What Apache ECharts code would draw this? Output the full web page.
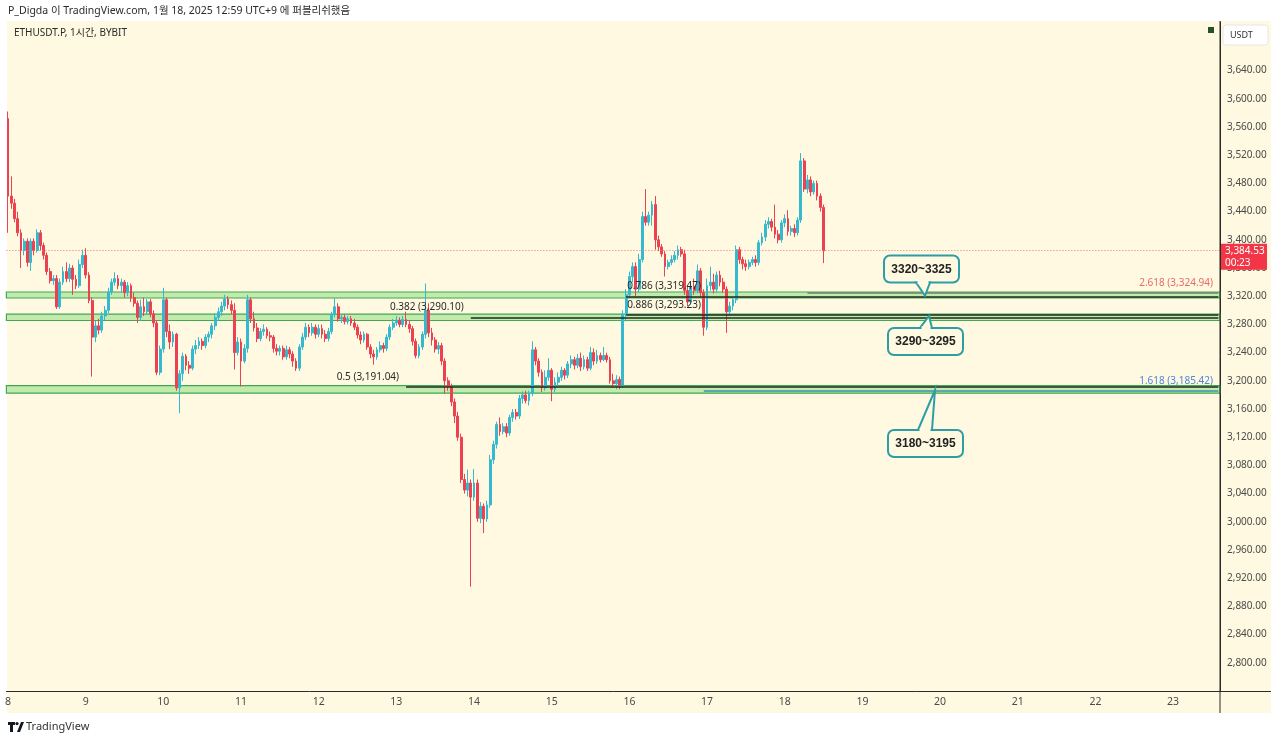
<!DOCTYPE html>
<html>
<head>
<meta charset="utf-8">
<script src="https://cdn.jsdelivr.net/npm/echarts@6/dist/echarts.min.js"></script>
<style>
  html, body { margin: 0; padding: 0; background: #fff; }
  #chart { width: 1280px; height: 741px; }
</style>
</head>
<body>
<div id="chart"></div>
<script>
// ETHUSDT.P 1h candles from 1/8 00:00, each row = [open, high, low, close]
const candles = [
  [3572,3582,3410,3462],[3462,3490,3444,3452],[3452,3458,3425,3430],[3430,3440,3405,3410],
  [3410,3415,3360,3385],[3385,3402,3378,3398],[3398,3402,3362,3368],[3368,3402,3356,3398],
  [3398,3402,3378,3385],[3385,3415,3382,3410],[3410,3414,3385,3392],[3392,3396,3372,3378],
  [3378,3382,3350,3355],[3355,3360,3338,3342],[3342,3350,3336,3345],[3345,3350,3302,3305],
  [3305,3345,3302,3340],[3340,3362,3336,3355],[3355,3368,3340,3345],[3345,3366,3340,3360],
  [3360,3364,3322,3344],[3344,3350,3330,3335],[3335,3372,3332,3365],[3365,3386,3360,3378],
  [3378,3388,3345,3350],[3350,3354,3310,3314],[3314,3318,3206,3262],[3262,3285,3255,3278],
  [3278,3288,3266,3272],[3272,3298,3268,3292],[3292,3306,3286,3300],[3300,3332,3296,3326],
  [3326,3345,3322,3340],[3340,3354,3335,3345],[3345,3350,3330,3335],[3335,3345,3325,3340],
  [3340,3343,3318,3325],[3325,3340,3320,3335],[3335,3338,3312,3318],[3318,3325,3305,3310],
  [3310,3314,3282,3290],[3290,3315,3285,3305],[3305,3318,3292,3298],[3298,3316,3294,3312],
  [3312,3316,3290,3295],[3295,3300,3276,3282],[3282,3286,3208,3212],[3212,3250,3208,3245],
  [3245,3332,3240,3315],[3315,3318,3262,3270],[3270,3280,3245,3255],[3255,3270,3248,3266],
  [3266,3268,3186,3190],[3190,3215,3154,3210],[3210,3240,3200,3235],[3235,3238,3215,3222],
  [3222,3228,3210,3218],[3218,3250,3215,3245],[3245,3258,3238,3250],[3250,3262,3245,3256],
  [3256,3260,3244,3250],[3250,3266,3246,3262],[3262,3270,3255,3266],[3266,3282,3260,3278],
  [3278,3296,3272,3290],[3290,3304,3285,3298],[3298,3312,3292,3306],[3306,3322,3300,3316],
  [3316,3320,3302,3308],[3308,3314,3295,3300],[3300,3310,3216,3240],[3240,3262,3236,3255],
  [3255,3260,3192,3228],[3228,3252,3225,3246],[3246,3322,3240,3315],[3315,3318,3282,3288],
  [3288,3298,3270,3275],[3275,3282,3255,3260],[3260,3275,3256,3270],[3270,3280,3264,3273],
  [3273,3276,3260,3264],[3264,3270,3256,3262],[3262,3265,3240,3246],[3246,3252,3236,3242],
  [3242,3250,3236,3246],[3246,3250,3230,3234],[3234,3250,3230,3244],[3244,3248,3232,3238],
  [3238,3242,3220,3228],[3228,3232,3214,3218],[3218,3252,3214,3248],[3248,3268,3244,3262],
  [3262,3282,3258,3276],[3276,3280,3262,3268],[3268,3282,3264,3276],[3276,3280,3260,3266],
  [3266,3280,3262,3274],[3274,3280,3260,3266],[3266,3272,3255,3260],[3260,3275,3256,3270],
  [3270,3298,3266,3294],[3294,3317,3290,3305],[3305,3310,3284,3288],[3288,3294,3282,3290],
  [3290,3294,3280,3284],[3284,3292,3280,3288],[3288,3292,3278,3282],[3282,3288,3272,3276],
  [3276,3280,3260,3265],[3265,3270,3252,3258],[3258,3270,3254,3266],[3266,3268,3244,3248],
  [3248,3252,3232,3238],[3238,3244,3223,3234],[3234,3248,3230,3244],[3244,3256,3240,3250],
  [3250,3254,3240,3246],[3246,3266,3242,3262],[3262,3280,3258,3276],[3276,3288,3272,3282],
  [3282,3292,3278,3286],[3286,3290,3276,3280],[3280,3292,3276,3287],[3287,3298,3276,3280],
  [3280,3286,3268,3274],[3274,3278,3250,3256],[3256,3260,3232,3236],[3236,3252,3232,3248],
  [3248,3270,3244,3266],[3266,3338,3260,3300],[3300,3310,3262,3268],[3268,3275,3250,3258],
  [3258,3262,3240,3245],[3245,3255,3238,3250],[3250,3254,3222,3228],[3228,3232,3182,3200],
  [3200,3205,3186,3192],[3192,3196,3164,3170],[3170,3175,3140,3150],[3150,3156,3115,3120],
  [3120,3125,3055,3060],[3060,3068,3040,3045],[3045,3074,3036,3055],[3055,3060,2908,3035],
  [3035,3075,3030,3055],[3055,3060,3000,3005],[3005,3028,2998,3022],[3022,3026,2984,3004],
  [3004,3030,3000,3024],[3024,3095,3020,3088],[3088,3115,3082,3110],[3110,3142,3104,3138],
  [3138,3148,3122,3128],[3128,3140,3124,3135],[3135,3140,3120,3126],[3126,3152,3122,3148],
  [3148,3160,3142,3155],[3155,3160,3145,3150],[3150,3180,3146,3175],[3175,3185,3168,3180],
  [3180,3186,3168,3172],[3172,3186,3165,3182],[3182,3256,3178,3244],[3244,3248,3222,3228],
  [3228,3232,3206,3212],[3212,3216,3184,3190],[3190,3215,3186,3205],[3205,3232,3200,3215],
  [3215,3218,3171,3188],[3188,3205,3184,3198],[3198,3212,3192,3205],[3205,3220,3200,3215],
  [3215,3218,3202,3208],[3208,3228,3204,3224],[3224,3236,3218,3230],[3230,3234,3216,3222],
  [3222,3238,3218,3232],[3232,3240,3214,3220],[3220,3236,3216,3230],[3230,3234,3214,3218],
  [3218,3248,3215,3240],[3240,3246,3222,3228],[3228,3244,3224,3236],[3236,3240,3226,3230],
  [3230,3248,3228,3236],[3236,3240,3226,3230],[3230,3234,3196,3200],[3200,3210,3190,3196],
  [3196,3208,3188,3202],[3202,3206,3188,3194],[3194,3300,3190,3294],[3294,3330,3284,3322],
  [3322,3355,3318,3348],[3348,3368,3340,3362],[3362,3368,3320,3330],[3330,3380,3325,3372],
  [3372,3440,3368,3433],[3433,3472,3420,3425],[3425,3440,3420,3435],[3435,3455,3420,3450],
  [3450,3462,3386,3400],[3400,3406,3384,3390],[3390,3394,3376,3380],[3380,3384,3348,3362],
  [3362,3372,3358,3368],[3368,3378,3364,3372],[3372,3384,3368,3378],[3378,3392,3372,3386],
  [3386,3390,3376,3380],[3380,3386,3322,3328],[3328,3335,3306,3312],[3312,3340,3308,3334],
  [3334,3345,3322,3328],[3328,3365,3324,3356],[3356,3360,3318,3325],[3325,3330,3264,3276],
  [3276,3345,3272,3335],[3335,3362,3328,3340],[3340,3352,3324,3330],[3330,3355,3326,3350],
  [3350,3356,3334,3340],[3340,3346,3325,3330],[3330,3334,3268,3298],[3298,3312,3292,3306],
  [3306,3318,3300,3315],[3315,3392,3310,3386],[3386,3390,3366,3372],[3372,3376,3358,3366],
  [3366,3372,3356,3362],[3362,3372,3358,3368],[3368,3376,3364,3372],[3372,3378,3362,3368],
  [3368,3400,3364,3396],[3396,3410,3392,3404],[3404,3428,3398,3422],[3422,3432,3416,3426],
  [3426,3430,3412,3418],[3418,3450,3402,3408],[3408,3414,3395,3400],[3400,3428,3396,3424],
  [3424,3436,3418,3430],[3430,3442,3406,3412],[3412,3420,3406,3416],[3416,3422,3404,3410],
  [3410,3432,3406,3428],[3428,3523,3424,3512],[3512,3516,3468,3472],[3472,3492,3466,3485],
  [3485,3490,3462,3468],[3468,3484,3464,3480],[3480,3484,3456,3462],[3462,3466,3440,3446],
  [3446,3450,3367,3384.53]
];
const totalHours = 375;                       // visible slots up to 1/23 afternoon
const dayLabels = ['8','9','10','11','12','13','14','15','16','17','18','19','20','21','22','23'];
const priceTicks = [2800,2840,2880,2920,2960,3000,3040,3080,3120,3160,3200,3240,3280,
                    3320,3360,3400,3440,3480,3520,3560,3600,3640];
const zoneLow  = [3317.5, 3285.6, 3182.5];
const zoneHigh = [3326.0, 3294.7, 3193.3];
const fibRatios = ['0.382', '0.5', '0.786', '0.886', '2.618', '1.618'];
const fibPrices = [3290.10, 3191.04, 3319.47, 3293.23, 3324.94, 3185.42];
const fibStartHour = [143, 123, 191, 191, 247, 215];
const calloutTexts = ['3320~3325', '3290~3295', '3180~3195'];
const calloutTipPrices = [3321, 3292, 3187];
const lastPrice = 3384.53;
const countdown = '00:23';

const UP = '#35b9cf', DOWN = '#ec4150', CREAM = '#fef9e0', TEAL = '#2d9ea6';

const hours = [];
for (let i = 0; i < totalHours; i++) hours.push('h' + i);

function fmt(v) {
  const s = v.toFixed(2).split('.');
  return s[0].replace(/\B(?=(\d{3})+$)/g, ',') + '.' + s[1];
}

const chart = echarts.init(document.getElementById('chart'));

const fibLines = fibPrices.map((p, i) => {
  const col = fibRatios[i] === '2.618' ? '#6f7f6a' : (fibRatios[i] === '1.618' ? '#3f8fae' : '#1d2a20');
  return [
    { coord: [fibStartHour[i], p], lineStyle: { color: col, width: 1.5, type: 'solid' } },
    { coord: [totalHours - 1, p] }
  ];
});

chart.setOption({
  animation: false,
  backgroundColor: '#ffffff',
  grid: { left: 6.4, right: 60, top: 22, bottom: 50 },
  xAxis: {
    type: 'category',
    data: hours,
    boundaryGap: true,
    axisLine: { show: true, lineStyle: { color: '#2b2b2b', width: 1 } },
    axisTick: { show: false },
    splitLine: { show: false },
    axisLabel: {
      interval: (i) => i % 24 === 0,
      formatter: (v, i) => dayLabels[Math.floor(i / 24)] || '',
      color: '#4a4a4a',
      fontSize: 10.5,
      fontFamily: 'Noto Sans, sans-serif',
      margin: 6
    }
  },
  yAxis: {
    type: 'value',
    position: 'right',
    min: 2760,
    max: 3709,
    scale: true,
    axisLine: { show: true, lineStyle: { color: '#2b2b2b', width: 1 } },
    axisTick: { show: false },
    splitLine: { show: false },
    axisLabel: {
      customValues: priceTicks,
      formatter: (v) => fmt(v),
      color: '#4a4a4a',
      fontSize: 10,
      fontFamily: 'Noto Sans, sans-serif',
      margin: 7
    }
  },
  series: [{
    type: 'candlestick',
    data: candles.map(r => [r[0], r[3], r[2], r[1]]),
    barWidth: '72%',
    itemStyle: {
      color: UP, color0: DOWN,
      borderColor: UP, borderColor0: DOWN,
      borderWidth: 1
    },
    markArea: {
      silent: true,
      itemStyle: { color: 'rgba(110,215,100,0.42)', borderColor: '#3fa955', borderWidth: 1.2 },
      data: zoneLow.map((lo, i) => [{ yAxis: lo }, { yAxis: zoneHigh[i] }])
    },
    markLine: {
      silent: true,
      symbol: ['none', 'none'],
      label: { show: false },
      data: [
        { yAxis: lastPrice, lineStyle: { color: '#e8707a', type: [1, 2], width: 1 } }
      ].concat(fibLines)
    }
  }]
});

// overlay drawings positioned from the axes
function px(idx, price) {
  return chart.convertToPixel({ xAxisIndex: 0, yAxisIndex: 0 }, [idx, price]);
}

const g = [];
// panel background
g.push({ type: 'rect', z: -100, shape: { x: 7, y: 21, width: 1264, height: 692 }, style: { fill: CREAM } });
// axis extensions
g.push({ type: 'line', z: 5, shape: { x1: 1220, y1: 21, x2: 1220, y2: 713 }, style: { stroke: '#2b2b2b', lineWidth: 1 } });
g.push({ type: 'line', z: 5, shape: { x1: 1220, y1: 691.5, x2: 1271, y2: 691.5 }, style: { stroke: '#2b2b2b', lineWidth: 1 } });

// header
g.push({ type: 'text', x: 8, y: 11, style: { text: 'P_Digda 이 TradingView.com, 1월 18, 2025 12:59 UTC+9 에 퍼블리쉬했음',
  fill: '#2a2a2a', font: '10.5px "Noto Sans", "Noto Sans CJK KR", sans-serif', verticalAlign: 'middle' } });
g.push({ type: 'text', x: 14, y: 33, style: { text: 'ETHUSDT.P, 1시간, BYBIT',
  fill: '#2a2a2a', font: '10px "Noto Sans", "Noto Sans CJK KR", sans-serif', verticalAlign: 'middle' } });

// top right widgets
g.push({ type: 'rect', z: 10, shape: { x: 1208, y: 27, width: 6, height: 6 }, style: { fill: '#24512c' } });
g.push({ type: 'rect', z: 10, shape: { x: 1223, y: 25, width: 45, height: 20, r: 3 }, style: { fill: '#ffffff', stroke: '#e6e6e6', lineWidth: 1 } });
g.push({ type: 'text', z: 11, x: 1230, y: 35, style: { text: 'USDT', fill: '#333', font: '9px "Noto Sans", sans-serif', verticalAlign: 'middle' } });

// fib labels
fibPrices.forEach((p, i) => {
  const r = fibRatios[i];
  const pt = px(fibStartHour[i], p);
  const text = r + ' (' + fmt(p) + ')';
  let x = pt[0], align = 'left', fill = '#2a2a2a';
  if (r === '0.382' || r === '0.5') { x = pt[0] - 7; align = 'right'; }
  else if (r === '0.786' || r === '0.886') { x = pt[0] + 1; }
  else { x = 1213; align = 'right'; fill = r === '2.618' ? '#e86b6b' : '#4f86d6'; }
  g.push({ type: 'text', z: 20, x: x, y: pt[1] - 10, style: { text: text, fill: fill, align: align,
    verticalAlign: 'middle', font: '10px "Noto Sans", sans-serif' } });
});

// callouts
const boxW = 75, boxH = 27;
calloutTexts.forEach((t, i) => {
  const tipY = px(0, calloutTipPrices[i])[1];
  let tipX, bx, by, edgeY, bl, br;
  if (i === 0) { tipX = 925; bx = 884; by = tipY - 13 - boxH; edgeY = by + boxH; bl = 916; br = 930; }
  else if (i === 1) { tipX = 929; bx = 888; by = tipY + 12; edgeY = by; bl = 920; br = 932; }
  else { tipX = 935; bx = 888; by = tipY + 40; edgeY = by; bl = 918; br = 932; }
  g.push({ type: 'rect', z: 30, shape: { x: bx, y: by, width: boxW, height: boxH, r: 6 },
    style: { fill: CREAM, stroke: TEAL, lineWidth: 2 } });
  g.push({ type: 'polygon', z: 31, shape: { points: [[bl, edgeY], [tipX, tipY], [br, edgeY]] },
    style: { fill: CREAM, stroke: TEAL, lineWidth: 2 } });
  g.push({ type: 'line', z: 32, shape: { x1: bl + 1.5, y1: edgeY, x2: br - 1.5, y2: edgeY },
    style: { stroke: CREAM, lineWidth: 3 } });
  g.push({ type: 'text', z: 33, x: bx + boxW / 2, y: by + boxH / 2 + 0.5, style: { text: t, fill: '#222',
    align: 'center', verticalAlign: 'middle', font: 'bold 12px "Liberation Sans", "DejaVu Sans", sans-serif' } });
});

// last price tag (kept above the axis labels)
const ly = px(0, lastPrice)[1];
g.push({ type: 'rect', z: 100, shape: { x: 1221, y: ly - 7, width: 46, height: 26 }, style: { fill: '#f23645' } });
g.push({ type: 'text', z: 101, x: 1225, y: ly + 0.5, style: { text: fmt(lastPrice), fill: '#fff',
  verticalAlign: 'middle', font: '10px "Noto Sans", sans-serif' } });
g.push({ type: 'text', z: 101, x: 1225, y: ly + 12, style: { text: countdown, fill: '#fff',
  verticalAlign: 'middle', font: '10px "Noto Sans", sans-serif' } });

// footer logo
g.push({ type: 'rect', shape: { x: 8, y: 722, width: 7, height: 3 }, style: { fill: '#131722' } });
g.push({ type: 'rect', shape: { x: 10, y: 722, width: 3, height: 10 }, style: { fill: '#131722' } });
g.push({ type: 'circle', shape: { cx: 17, cy: 723.6, r: 1.6 }, style: { fill: '#131722' } });
g.push({ type: 'polygon', shape: { points: [[17, 732], [21, 722], [24, 722], [20, 732]] }, style: { fill: '#131722' } });
g.push({ type: 'text', x: 26, y: 727, style: { text: 'TradingView', fill: '#333',
  verticalAlign: 'middle', font: '11px "Noto Sans", sans-serif' } });

chart.setOption({ graphic: g });
</script>
</body>
</html>
